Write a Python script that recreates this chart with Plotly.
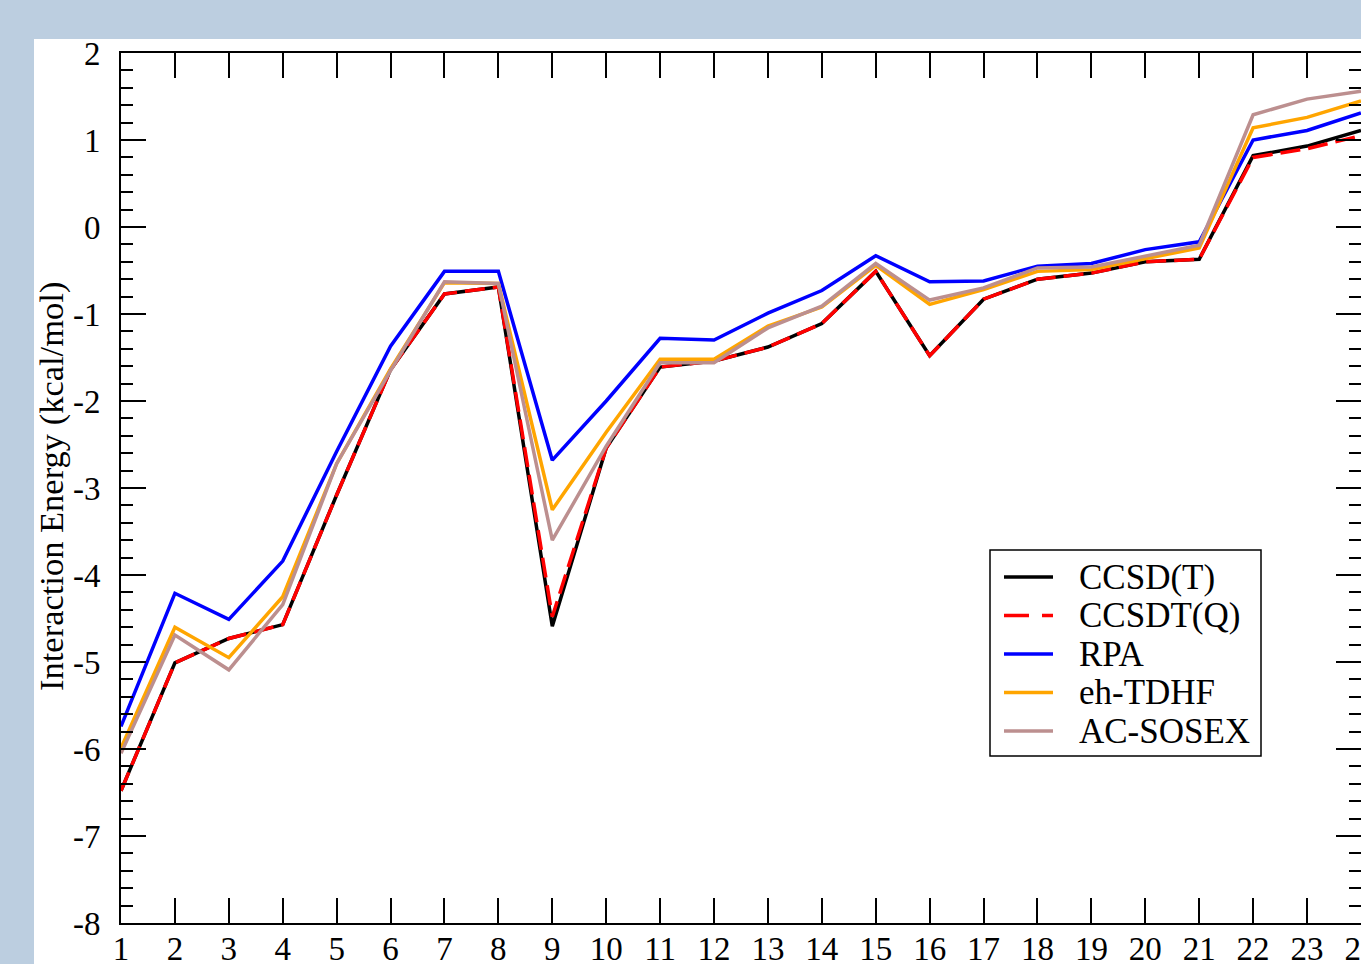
import plotly.graph_objects as go

systems = list(range(1, 25))

ccsd_t = [-6.48, -5.01, -4.73, -4.57, -3.08, -1.64, -0.77, -0.69, -4.59, -2.54,
          -1.61, -1.54, -1.38, -1.11, -0.51, -1.48, -0.83, -0.60, -0.53, -0.40,
          -0.37, 0.82, 0.93, 1.11]
ccsdt_q = [-6.48, -5.01, -4.73, -4.57, -3.08, -1.64, -0.77, -0.69, -4.48, -2.54,
           -1.61, -1.54, -1.38, -1.11, -0.51, -1.48, -0.83, -0.60, -0.53, -0.40,
           -0.37, 0.80, 0.90, 1.05]
rpa = [-5.74, -4.21, -4.51, -3.84, -2.58, -1.37, -0.51, -0.51, -2.68, -2.00,
       -1.28, -1.30, -0.99, -0.73, -0.33, -0.63, -0.62, -0.45, -0.42, -0.26,
       -0.17, 1.00, 1.11, 1.31]
eh_tdhf = [-5.99, -4.60, -4.95, -4.25, -2.72, -1.63, -0.64, -0.65, -3.25, -2.36,
           -1.52, -1.52, -1.14, -0.92, -0.44, -0.89, -0.72, -0.51, -0.49, -0.36,
           -0.24, 1.14, 1.26, 1.45]
ac_sosex = [-6.05, -4.69, -5.09, -4.34, -2.72, -1.65, -0.63, -0.65, -3.60, -2.52,
            -1.56, -1.56, -1.16, -0.91, -0.42, -0.84, -0.70, -0.47, -0.46, -0.33,
            -0.21, 1.29, 1.47, 1.56]

y_ticks = [2, 1, 0, -1, -2, -3, -4, -5, -6, -7, -8]
y_ticktext = ["2", "1", "0", "-1", "-2", "-3", "-4", "-5", "-6", "-7", "-8"]

series = [
    ("CCSD(T)", ccsd_t, "#000000", "solid", "solid"),
    ("CCSDT(Q)", ccsdt_q, "#ff0000", "20px,8px", "25px,13px"),
    ("RPA", rpa, "#0000ff", "solid", "solid"),
    ("eh-TDHF", eh_tdhf, "#ffa500", "solid", "solid"),
    ("AC-SOSEX", ac_sosex, "#bc8f8f", "solid", "solid"),
]

FONT = "Liberation Serif"

fig = go.Figure()
for name, vals, color, dash, _ in series:
    fig.add_trace(go.Scatter(x=systems, y=vals, mode="lines", name=name,
                             showlegend=False,
                             line=dict(color=color, width=3.5, dash=dash)))

W, H = 1361, 964
ml, mr, mt, mb = 121, 0, 53, 41
pw, ph = W - ml - mr, H - mt - mb

def px_x(p):
    return (p - ml) / pw

def px_y(p):
    return (H - mb - p) / ph

# white panel behind the plot
fig.add_shape(type="rect", xref="paper", yref="paper", layer="below",
              x0=px_x(34), x1=px_x(1400), y0=px_y(966), y1=px_y(39),
              fillcolor="white", line=dict(width=0))

# legend box
fig.add_shape(type="rect", xref="paper", yref="paper",
              x0=px_x(990), x1=px_x(1261), y0=px_y(756), y1=px_y(550),
              fillcolor="white", line=dict(color="black", width=1.5))
for i, (name, vals, color, dash, ldash) in enumerate(series):
    yc = 577 + i * 38.5
    fig.add_shape(type="line", xref="paper", yref="paper",
                  x0=px_x(1004), x1=px_x(1053), y0=px_y(yc), y1=px_y(yc),
                  line=dict(color=color, width=3.5, dash=ldash))
    fig.add_annotation(text=name, xref="paper", yref="paper",
                       x=px_x(1077), y=px_y(yc), xanchor="left", yanchor="middle",
                       showarrow=False, font=dict(family=FONT, size=35, color="black"))

# y-axis title
fig.add_annotation(text="Interaction Energy (kcal/mol)", xref="paper", yref="paper",
                   x=px_x(51), y=px_y(487), xanchor="center", yanchor="middle",
                   textangle=-90, showarrow=False,
                   font=dict(family=FONT, size=34.5, color="black"))

fig.update_layout(
    width=W, height=H,
    margin=dict(l=ml, r=mr, t=mt, b=mb, autoexpand=False),
    paper_bgcolor="#bccee0",
    plot_bgcolor="white",
    font=dict(family=FONT, size=33, color="black"),
    showlegend=False,
)

fig.update_xaxes(range=[1, 24.001], tickmode="array", tickvals=systems,
                 ticktext=[str(s) for s in systems],
                 ticks="inside", ticklen=25, tickwidth=2, tickcolor="black",
                 showline=True, linewidth=2, linecolor="black", mirror="allticks",
                 showgrid=False, zeroline=False, ticklabeloverflow="allow",
                 tickfont=dict(family=FONT, size=33), ticklabelstandoff=-5)

fig.update_yaxes(range=[-8, 2], tickmode="array", tickvals=y_ticks,
                 ticktext=y_ticktext,
                 ticks="inside", ticklen=25, tickwidth=2, tickcolor="black",
                 minor=dict(tick0=0, dtick=0.2, ticks="inside", ticklen=12, tickwidth=2,
                            tickcolor="black", showgrid=False),
                 showline=True, linewidth=2, linecolor="black", mirror="allticks",
                 showgrid=False, zeroline=False, ticklabeloverflow="allow",
                 tickfont=dict(family=FONT, size=33), ticklabelstandoff=12)

fig.write_html("out.html",
               config={"displayModeBar": False},
               post_script="document.body.style.margin='0';"
                           "document.documentElement.style.overflow='hidden';"
                           "document.body.style.overflow='hidden';")
